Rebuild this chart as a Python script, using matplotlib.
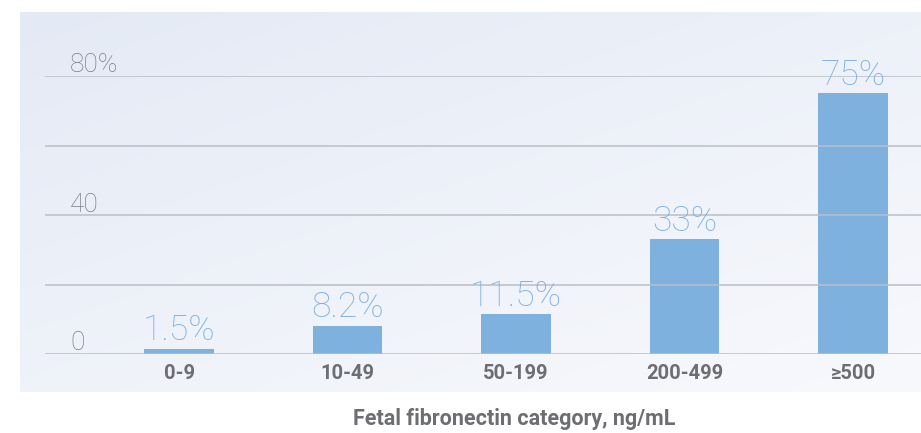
import numpy as np
import matplotlib.pyplot as plt
import matplotlib.transforms as mtransforms
from matplotlib.colors import LinearSegmentedColormap

categories = ['0-9', '10-49', '50-199', '200-499', '≥500']
values = [1.5, 8.2, 11.5, 33, 75]
value_labels = ['1.5%', '8.2%', '11.5%', '33%', '75%']
tick_values = [0, 40, 80]
tick_labels = ['0', '40', '80%']

plt.rcParams['font.family'] = ['Roboto', 'DejaVu Sans']

W, H = 921, 433
fig = plt.figure(figsize=(W / 100, H / 100), dpi=100)
fig.patch.set_facecolor('white')

# gradient panel behind the chart
bg = fig.add_axes([20 / W, 1 - 392 / H, 901 / W, 380 / H], zorder=0)
yy, xx = np.mgrid[0:1:200j, 0:1:400j]
grad = 0.55 * yy + 0.45 * xx
cmap = LinearSegmentedColormap.from_list('panel', ['#e4eaf5', '#f8f9fd'])
bg.imshow(grad, cmap=cmap, aspect='auto', extent=[0, 1, 0, 1], origin='upper')
bg.axis('off')

ax = fig.add_axes([45 / W, 1 - 354 / H, 876 / W, 278 / H], zorder=1)
ax.patch.set_alpha(0)
x = np.arange(len(categories))
ax.bar(x, values, width=0.415, color='#7fb1df', zorder=2)

for yv in [0, 20, 40, 60, 80]:
    ax.axhline(yv, color='#b9bec7', lw=1.1, zorder=3)

ax.set_xlim((45 - 179) / 168.5, (921 - 179) / 168.5)
ax.set_ylim(0, 80)
for s in ax.spines.values():
    s.set_visible(False)
ax.set_yticks([])
ax.set_xticks(x)
ax.set_xticklabels(categories, fontsize=14.5, fontweight='bold', color='#6c6e72')
ax.tick_params(axis='x', length=0, pad=7.5)

tick_off = mtransforms.offset_copy(ax.get_yaxis_transform(), fig=fig, y=3.5, units='dots')
for yv, lab in zip(tick_values, tick_labels):
    ax.text(25 / 876, yv, lab, transform=tick_off,
            ha='left', va='baseline', fontsize=19, fontweight='light', color='#7c7f84')

val_off = mtransforms.offset_copy(ax.transData, fig=fig, y=8.5, units='dots')
for xi, v, lab in zip(x, values, value_labels):
    ax.text(xi, v, lab, transform=val_off, ha='center', va='baseline', fontsize=25.5,
            fontweight='light', color='#7db1e2')

fig.text(514 / W, 1 - 419 / H, 'Fetal fibronectin category, ng/mL', ha='center',
         va='center', fontsize=15.5, fontweight='bold', color='#6c6e72')

fig.savefig('out.png', dpi=100)
